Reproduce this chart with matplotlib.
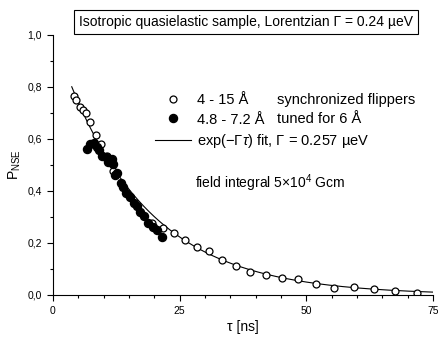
import numpy as np
import matplotlib
matplotlib.use("Agg")
import matplotlib.pyplot as plt
from matplotlib.ticker import MultipleLocator, FuncFormatter

plt.rcParams["font.family"] = ["Liberation Sans", "DejaVu Sans"]
plt.rcParams["mathtext.fontset"] = "custom"
plt.rcParams["mathtext.rm"] = "Liberation Sans"
plt.rcParams["mathtext.it"] = "Liberation Sans:italic"

# open circles: 4 - 15 A, synchronized flippers
tau_sync = [4.1, 4.6, 5.3, 6.0, 6.5, 7.3, 8.4, 9.5, 10.7, 11.8, 19.6, 21.8,
            23.9, 26.1, 28.4, 30.8, 33.4, 36.1, 38.9, 42.0, 45.2, 48.4,
            51.9, 55.5, 59.5, 63.4, 67.5, 71.8]
p_sync = [0.765, 0.75, 0.725, 0.712, 0.70, 0.665, 0.615, 0.58, 0.535, 0.478,
          0.278, 0.257, 0.237, 0.212, 0.185, 0.169, 0.135, 0.113, 0.09,
          0.077, 0.064, 0.060, 0.042, 0.028, 0.032, 0.023, 0.015, 0.009]

# filled circles: 4.8 - 7.2 A, tuned for 6 A
tau_tuned = [6.7, 7.4, 8.1, 8.6, 9.1, 9.6, 10.5, 10.9, 11.6, 11.9, 12.2,
             12.7, 13.4, 13.9, 14.5, 15.1, 15.9, 16.5, 17.2, 18.0, 18.8,
             19.7, 20.5, 21.5]
p_tuned = [0.56, 0.58, 0.586, 0.57, 0.558, 0.535, 0.532, 0.513, 0.522, 0.504,
           0.462, 0.468, 0.43, 0.417, 0.391, 0.378, 0.353, 0.342, 0.32,
           0.304, 0.276, 0.26, 0.25, 0.222]

# fitted decay, exp(-k*tau), k
decay_per_ns = 0.06
fit_tau = np.linspace(3.7, 75, 300)
fit_p = np.exp(-decay_per_ns * fit_tau)

W, H = 438, 338
fig = plt.figure(figsize=(W / 100, H / 100), dpi=100)
ax = fig.add_axes([53 / W, 1 - 295 / H, 380 / W, 260 / H])

ax.plot(fit_tau, fit_p, color="black", lw=0.8,
        label="exp(−Γ$\\mathit{\\tau}$) fit, Γ = 0.257 µeV")
ax.plot(tau_sync, p_sync, "o", mfc="white", mec="black", mew=0.9, ms=5,
        label="4 - 15 Å")
ax.plot(tau_tuned, p_tuned, "o", color="black", ms=5.8, label="4.8 - 7.2 Å")

ax.set_xlim(0, 75)
ax.set_ylim(0, 1.0)
ax.xaxis.set_major_locator(MultipleLocator(25))
ax.xaxis.set_minor_locator(MultipleLocator(5))
ax.yaxis.set_major_locator(MultipleLocator(0.2))
ax.yaxis.set_minor_locator(MultipleLocator(0.1))
ax.yaxis.set_major_formatter(FuncFormatter(lambda v, p: f"{v:.1f}".replace(".", ",")))
ax.tick_params(which="major", length=4.5, width=0.8, labelsize=7.5, direction="out")
ax.tick_params(which="minor", length=2.5, width=0.8, direction="out")
for s in ["top", "right"]:
    ax.spines[s].set_visible(False)
for s in ["left", "bottom"]:
    ax.spines[s].set_linewidth(0.8)

ax.set_xlabel("τ [ns]", fontsize=10, labelpad=3)
ax.set_ylabel(r"P$_{\mathrm{NSE}}$", fontsize=10, labelpad=3)

h, l = ax.get_legend_handles_labels()
order = [1, 2, 0]
ax.legend([h[i] for i in order], [l[i] for i in order], loc="upper left",
          bbox_to_anchor=(155 / W, 1 - 93 / H), bbox_transform=fig.transFigure,
          frameon=False, fontsize=10.5, handlelength=2.5, handletextpad=0.35,
          borderpad=0, borderaxespad=0, labelspacing=0.38, numpoints=1)
fig.text(277 / W, 1 - 100 / H, "synchronized flippers", fontsize=10.5, va="center")
fig.text(277 / W, 1 - 119 / H, "tuned for 6 Å", fontsize=10.5, va="center")
fig.text(195 / W, 1 - 183 / H, r"field integral 5×10$^4$ Gcm", fontsize=10, va="center")

fig.text(246 / W, 1 - 22 / H,
         "Isotropic quasielastic sample, Lorentzian Γ = 0.24 µeV",
         fontsize=10, ha="center", va="center",
         bbox=dict(boxstyle="square,pad=0.35", fc="white", ec="black", lw=0.8))

fig.savefig("out.png", dpi=100)
